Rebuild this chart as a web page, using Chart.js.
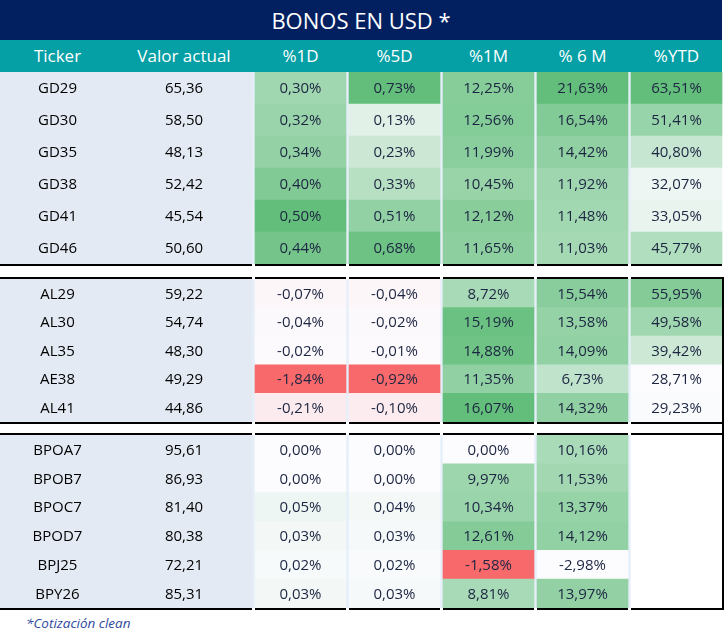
<!DOCTYPE html>
<html>
<head>
<meta charset="utf-8">
<script src="https://cdn.jsdelivr.net/npm/chart.js@4.4.0/dist/chart.umd.min.js"></script>
<style>
  body { margin: 0; background: #fff; font-family: "Open Sans", sans-serif; }
  #wrap { position: relative; width: 724px; height: 639px; overflow: hidden; }
  #title { position: absolute; left: 0; top: 0; width: 722px; height: 40px; background: #021f5f;
           color: #fff; font-size: 22px; line-height: 40px; text-align: center; }
  #head { position: absolute; left: 0; top: 40px; width: 722px; height: 32px; background: #05a0a6; color: #fff; font-size: 17px; }
  #head span { position: absolute; top: 0; line-height: 32px; transform: translateX(-50%); white-space: nowrap; }
  canvas { position: absolute; left: 0; }
  #note { position: absolute; left: 26px; top: 614px; font-size: 13.5px; font-style: italic; color: #2f4a9e; }
</style>
</head>
<body>
<div id="wrap">
  <div id="title">BONOS EN USD *</div>
  <div id="head"></div>
  <canvas id="g1" width="724" height="194" style="top:72px"></canvas>
  <canvas id="g2" width="724" height="156" style="top:277px"></canvas>
  <canvas id="g3" width="724" height="177" style="top:433px"></canvas>
  <div id="note">*Cotización clean</div>
</div>
<script>
// table data, one entry per bond
var headers = ["Ticker", "Valor actual", "%1D", "%5D", "%1M", "% 6 M", "%YTD"];
var tickers = ["GD29", "GD30", "GD35", "GD38", "GD41", "GD46",
               "AL29", "AL30", "AL35", "AE38", "AL41",
               "BPOA7", "BPOB7", "BPOC7", "BPOD7", "BPJ25", "BPY26"];
var prices = [65.36, 58.50, 48.13, 52.42, 45.54, 50.60,
              59.22, 54.74, 48.30, 49.29, 44.86,
              95.61, 86.93, 81.40, 80.38, 72.21, 85.31];
var chg1D = [0.30, 0.32, 0.34, 0.40, 0.50, 0.44,
             -0.07, -0.04, -0.02, -1.84, -0.21,
             0.00, 0.00, 0.05, 0.03, 0.02, 0.03];
var chg5D = [0.73, 0.13, 0.23, 0.33, 0.51, 0.68,
             -0.04, -0.02, -0.01, -0.92, -0.10,
             0.00, 0.00, 0.04, 0.03, 0.02, 0.03];
var chg1M = [12.25, 12.56, 11.99, 10.45, 12.12, 11.65,
             8.72, 15.19, 14.88, 11.35, 16.07,
             0.00, 9.97, 10.34, 12.61, -1.58, 8.81];
var chg6M = [21.63, 16.54, 14.42, 11.92, 11.48, 11.03,
             15.54, 13.58, 14.09, 6.73, 14.32,
             10.16, 11.53, 13.37, 14.12, -2.98, 13.97];
var chgYTD = [63.51, 51.41, 40.80, 32.07, 33.05, 45.77,
              55.95, 49.58, 39.42, 28.71, 29.23,
              null, null, null, null, null, null];
var groupSizes = [6, 5, 6];

// layout (px along the x scale)
var leftBlock = [0, 252];
var cellCols = [[255, 346], [349, 440], [443, 534], [537, 628], [631, 722]];
var leftTextX = [57.5, 184];
var scaleKinds = ["mid0", "mid0", "mid0", "minmax", "minmax"];

var GREEN = [99, 190, 123], WHITE = [252, 252, 255], RED = [248, 105, 107];

function mix(a, b, t) {
    return "rgb(" + a.map(function (v, i) { return Math.round(v + (b[i] - v) * t); }).join(",") + ")";
}

// excel-like colour scale
function cellColor(v, col, kind) {
    if (v === null) return "#ffffff";
    var vals = col.filter(function (x) { return x !== null; });
    var mn = Math.min.apply(null, vals), mx = Math.max.apply(null, vals);
    if (kind === "mid0") {
        if (v >= 0) return mix(WHITE, GREEN, mx > 0 ? v / mx : 0);
        return mix(WHITE, RED, v / mn);
    }
    return mix(WHITE, GREEN, (v - mn) / (mx - mn));
}

function fmt(v, pct) {
    if (v === null) return "";
    return v.toFixed(2).replace(".", ",") + (pct ? "%" : "");
}

// header labels
var head = document.getElementById("head");
var headX = leftTextX.concat(cellCols.map(function (c) { return (c[0] + c[1]) / 2; }));
headers.forEach(function (h, i) {
    var s = document.createElement("span");
    s.textContent = h;
    s.style.left = headX[i] + "px";
    head.appendChild(s);
});

var cols = [chg1D, chg5D, chg1M, chg6M, chgYTD];

var tablePlugin = {
    id: "tableCells",
    beforeDatasetsDraw: function (chart) {
        var a = chart.chartArea, ctx = chart.ctx, xs = chart.scales.x;
        ctx.save();
        ctx.fillStyle = "#e6eff9";
        ctx.fillRect(0, a.top, xs.getPixelForValue(722), a.bottom - a.top);
        ctx.restore();
    },
    afterDatasetsDraw: function (chart, args, opts) {
        var ctx = chart.ctx, xs = chart.scales.x, ys = chart.scales.y, a = chart.chartArea;
        var start = opts.start, n = chart.data.labels.length;
        ctx.save();
        ctx.textAlign = "center";
        ctx.textBaseline = "middle";
        for (var i = 0; i < n; i++) {
            var y = ys.getPixelForValue(i) + 1;
            ctx.font = '500 15px "Open Sans"';
            ctx.fillStyle = "#000";
            ctx.fillText(tickers[start + i], xs.getPixelForValue(leftTextX[0]), y);
            ctx.fillText(fmt(prices[start + i], false), xs.getPixelForValue(leftTextX[1]), y);
            ctx.fillStyle = "#1c2541";
            cols.forEach(function (c, k) {
                var cx = xs.getPixelForValue((cellCols[k][0] + cellCols[k][1]) / 2);
                ctx.fillText(fmt(c[start + i], true), cx, y);
            });
        }
        // black group rules, broken at the column gaps
        ctx.fillStyle = "#000";
        var segs = [leftBlock].concat(cellCols);
        segs.forEach(function (s) {
            var x0 = xs.getPixelForValue(s[0]), x1 = xs.getPixelForValue(s[1]);
            ctx.fillRect(x0, a.bottom, x1 - x0, 2);
            if (opts.topLine) ctx.fillRect(x0, a.top - 2, x1 - x0, 2);
        });
        // right edge frame of the lower groups
        if (opts.rightBorder) {
            ctx.fillRect(xs.getPixelForValue(722), a.top - 2, 2, chart.height - a.top + 2 - (opts.start > 6 ? 0 : 0));
        }
        ctx.restore();
    }
};

function makeGroup(id, start, n, padTop, padBottom, rightBorder) {
    var labels = tickers.slice(start, start + n);
    var datasets = [{
        data: labels.map(function () { return leftBlock; }),
        backgroundColor: "#e4eaf3"
    }];
    cols.forEach(function (c, k) {
        datasets.push({
            data: labels.map(function () { return cellCols[k]; }),
            backgroundColor: c.slice(start, start + n).map(function (v) { return cellColor(v, c, scaleKinds[k]); })
        });
    });
    new Chart(document.getElementById(id).getContext("2d"), {
        type: "bar",
        data: { labels: labels, datasets: datasets },
        options: {
            indexAxis: "y",
            responsive: false,
            animation: false,
            layout: { padding: { top: padTop, bottom: padBottom, left: 0, right: 0 } },
            datasets: { bar: { grouped: false, barPercentage: 1, categoryPercentage: 1, borderWidth: 0 } },
            scales: {
                x: { type: "linear", min: 0, max: 724, display: false },
                y: { display: false }
            },
            plugins: {
                legend: { display: false },
                tooltip: { enabled: false },
                tableCells: { start: start, topLine: padTop > 0, rightBorder: rightBorder }
            }
        },
        plugins: [tablePlugin]
    });
}

makeGroup("g1", 0, groupSizes[0], 0, 2, false);
makeGroup("g2", groupSizes[0], groupSizes[1], 2, 11, true);
makeGroup("g3", groupSizes[0] + groupSizes[1], groupSizes[2], 2, 2, true);
</script>
</body>
</html>
